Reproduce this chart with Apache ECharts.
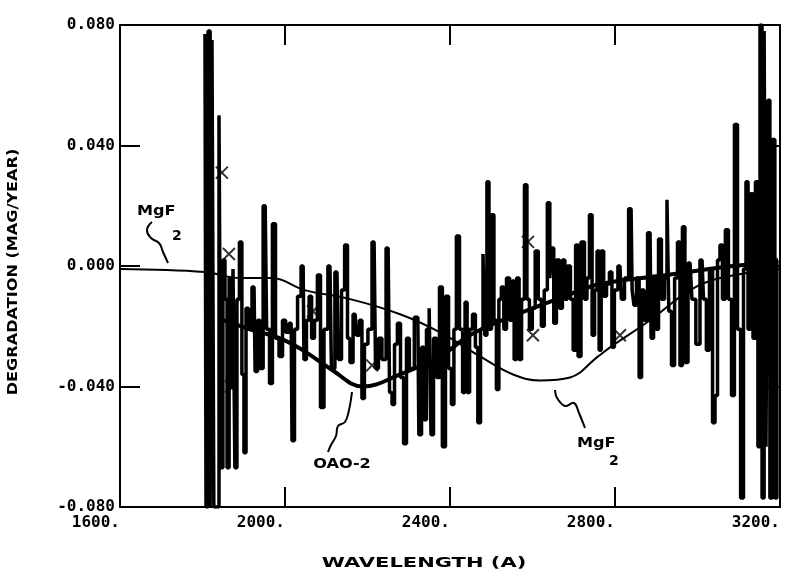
<!DOCTYPE html>
<html>
<head>
<meta charset="utf-8">
<title>Degradation vs wavelength</title>
<script src="https://cdn.jsdelivr.net/npm/echarts@6/dist/echarts.min.js"></script>
<style>
  html, body { margin: 0; padding: 0; background: #fff; }
  #chart { width: 786px; height: 574px; }
</style>
</head>
<body>
<div id="chart"></div>
<script>
// --- Data: [wavelength (A), degradation (mag/year)] ---
var NOISE = [
  [1806,0.077],[1811,-0.080],[1816,0.078],[1821,-0.080],[1825,0.075],[1830,-0.080],[1838,-0.080],[1842,0.050],
  [1847,-0.067],[1852,0.002],[1857,-0.011],[1862,-0.067],[1867,-0.004],[1872,-0.041],[1876,-0.001],[1881,-0.067],
  [1886,-0.011],[1893,0.008],[1898,-0.036],[1903,-0.062],[1908,-0.014],[1915,-0.021],[1925,-0.007],[1930,-0.035],
  [1937,-0.018],[1942,-0.034],[1952,0.020],[1959,-0.021],[1966,-0.039],[1973,0.014],[1981,-0.024],[1990,-0.030],
  [1998,-0.018],[2005,-0.022],[2015,-0.019],[2019,-0.058],[2027,-0.021],[2034,-0.010],[2044,0.000],[2048,-0.031],
  [2056,-0.018],[2061,-0.010],[2068,-0.024],[2075,-0.018],[2082,-0.003],[2090,-0.047],[2099,-0.021],[2109,0.000],
  [2116,-0.034],[2126,-0.002],[2133,-0.031],[2141,-0.008],[2148,0.007],[2155,-0.024],[2160,-0.032],[2170,-0.016],
  [2177,-0.023],[2184,-0.018],[2189,-0.044],[2196,-0.026],[2206,-0.021],[2216,0.008],[2223,-0.034],[2230,-0.024],
  [2240,-0.031],[2250,0.006],[2257,-0.042],[2262,-0.046],[2269,-0.026],[2276,-0.019],[2284,-0.037],[2291,-0.059],
  [2298,-0.024],[2305,-0.034],[2322,-0.017],[2327,-0.056],[2335,-0.027],[2339,-0.051],[2347,-0.021],[2352,-0.014],
  [2356,-0.056],[2364,-0.024],[2371,-0.037],[2378,-0.007],[2385,-0.060],[2393,-0.010],[2400,-0.034],[2407,-0.046],
  [2412,-0.021],[2419,0.010],[2427,-0.021],[2434,-0.042],[2439,-0.012],[2444,-0.042],[2451,-0.021],[2458,-0.016],
  [2465,-0.027],[2470,-0.052],[2478,-0.021],[2482,0.004],[2487,-0.023],[2492,0.028],[2497,-0.021],[2504,0.017],
  [2509,-0.018],[2516,-0.041],[2521,-0.011],[2528,-0.007],[2533,-0.021],[2541,-0.004],[2548,-0.018],[2553,-0.005],
  [2558,-0.031],[2565,-0.004],[2570,-0.031],[2577,-0.011],[2584,0.027],[2589,-0.011],[2596,-0.021],[2603,-0.014],
  [2610,0.005],[2618,-0.011],[2625,-0.020],[2632,-0.008],[2640,0.021],[2644,-0.004],[2649,0.006],[2654,-0.019],
  [2662,0.002],[2669,-0.014],[2676,0.002],[2681,-0.011],[2688,0.000],[2696,-0.011],[2701,-0.028],[2708,0.007],
  [2713,-0.030],[2722,0.008],[2730,-0.011],[2734,-0.004],[2742,0.017],[2747,-0.023],[2754,-0.008],[2759,0.005],
  [2764,-0.028],[2769,0.005],[2776,-0.010],[2783,-0.006],[2790,-0.002],[2795,-0.027],[2802,-0.008],[2812,0.000],
  [2819,-0.011],[2827,-0.004],[2839,0.019],[2844,-0.008],[2848,-0.013],[2856,-0.004],[2861,-0.037],[2868,-0.008],
  [2873,-0.018],[2885,0.011],[2890,-0.024],[2897,-0.004],[2902,-0.021],[2909,0.009],[2916,-0.011],[2924,-0.004],
  [2928,0.022],[2933,-0.015],[2941,-0.033],[2948,-0.004],[2955,0.008],[2960,-0.033],[2967,0.013],[2972,-0.032],
  [2982,0.001],[2991,-0.011],[3001,-0.026],[3011,0.002],[3018,-0.011],[3025,-0.028],[3033,-0.001],[3040,-0.052],
  [3045,-0.043],[3052,0.002],[3057,0.007],[3064,-0.011],[3071,0.012],[3079,-0.011],[3086,-0.043],[3093,0.047],
  [3101,-0.021],[3108,-0.077],[3115,-0.001],[3120,0.028],[3125,-0.021],[3132,0.024],[3137,-0.024],[3144,0.028],
  [3149,-0.060],[3154,0.080],[3159,-0.077],[3164,0.078],[3168,-0.060],[3173,0.055],[3178,-0.077],[3185,0.042],
  [3190,-0.077],[3195,0.002]
];

// smooth OAO-2 fit (thick curve)
var OAO2 = [
  [1850,-0.018],[1915,-0.021],[1988,-0.024],[2044,-0.028],[2109,-0.034],[2189,-0.040],[2279,-0.036],
  [2376,-0.030],[2448,-0.023],[2545,-0.017],[2679,-0.010],[2764,-0.006],[2926,-0.003],[3086,0.000],[3176,0.001]
];

// MgF2 reference curve (thin)
var MGF2 = [
  [1600,-0.001],[1806,-0.002],[1891,-0.004],[1968,-0.004],[2048,-0.008],[2158,-0.011],[2279,-0.016],
  [2376,-0.022],[2473,-0.030],[2553,-0.036],[2618,-0.038],[2691,-0.037],[2759,-0.030],[2788,-0.027],
  [2885,-0.018],[2982,-0.008],[3055,-0.004],[3198,-0.001]
];

// cross markers
var MARKS = [
  [1847,0.031],[1864,0.004],[1869,-0.040],[2068,-0.015],[2211,-0.033],[2589,0.008],[2601,-0.023],[2812,-0.023]
];

var X_MIN = 1600, X_MAX = 3200, X_STEP = 400;
var Y_MIN = -0.08, Y_MAX = 0.08, Y_STEP = 0.04;

var LABEL_FONT = '"DejaVu Sans Mono", monospace';
var NOTE_FONT = 'bold 14px "DejaVu Sans", sans-serif';

var chart = echarts.init(document.getElementById('chart'), null, { renderer: 'canvas' });

// --- frame axis: black line, inward ticks ---
function boxAxis(extra) {
  var a = {
    type: 'value',
    axisLine: { show: true, onZero: false, lineStyle: { color: '#000', width: 2 } },
    axisTick: { show: true, inside: true, length: 20, lineStyle: { color: '#000', width: 2 } },
    splitLine: { show: false },
    axisLabel: { show: false }
  };
  for (var k in extra) a[k] = extra[k];
  return a;
}

var option = {
  animation: false,
  backgroundColor: '#fff',
  grid: { left: 120, right: 6, top: 25, bottom: 67 },
  xAxis: [
    boxAxis({ min: X_MIN, max: X_MAX, interval: X_STEP, position: 'bottom',
      axisLabel: { show: true, color: '#000', fontFamily: LABEL_FONT, fontWeight: 'bold', fontSize: 16,
        margin: 8, align: 'right', formatter: function(v) { return v + '.'; } } }),
    boxAxis({ min: X_MIN, max: X_MAX, interval: X_STEP, position: 'top' })
  ],
  yAxis: [
    boxAxis({ min: Y_MIN, max: Y_MAX, interval: Y_STEP, position: 'left',
      axisLabel: { show: true, color: '#000', fontFamily: LABEL_FONT, fontWeight: 'bold', fontSize: 16,
        margin: 5, formatter: function(v) { return v.toFixed(3); } } }),
    boxAxis({ min: Y_MIN, max: Y_MAX, interval: Y_STEP, position: 'right' })
  ],
  series: [
    {
      // measured values, drawn as vertical strokes
      name: 'data', type: 'line', data: NOISE, step: 'middle', showSymbol: false,
      lineStyle: { color: '#000', width: 3.5 }, z: 3
    },
    {
      name: 'OAO-2', type: 'line', data: OAO2, smooth: 0.4, showSymbol: false,
      lineStyle: { color: '#000', width: 4 }, z: 4
    },
    {
      name: 'MgF2', type: 'line', data: MGF2, smooth: 0.4, showSymbol: false,
      lineStyle: { color: '#000', width: 2 }, z: 4
    },
    {
      name: 'marks', type: 'scatter', data: MARKS, symbol: 'path://M0 0L10 10M10 0L0 10', symbolSize: 12,
      itemStyle: { color: 'rgba(0,0,0,0)', borderColor: '#000', borderWidth: 2 }, z: 5
    }
  ],
  graphic: [
    // axis titles
    { type: 'text', x: 424, y: 563, scaleX: 1.5,
      style: { text: 'WAVELENGTH (A)', font: NOTE_FONT, fill: '#000', align: 'center', verticalAlign: 'middle' } },
    { type: 'text', x: 13, y: 272, rotation: Math.PI / 2, scaleX: 1.15,
      style: { text: 'DEGRADATION (MAG/YEAR)', font: NOTE_FONT, fill: '#000', align: 'center', verticalAlign: 'middle' } },
    // curve labels with their leader squiggles
    { type: 'text', x: 137, y: 211, scaleX: 1.15,
      style: { text: 'MgF', font: NOTE_FONT, fill: '#000', align: 'left', verticalAlign: 'middle' } },
    { type: 'text', x: 172, y: 236,
      style: { text: '2', font: NOTE_FONT, fill: '#000', align: 'left', verticalAlign: 'middle' } },
    { type: 'polyline', shape: { points: [[152, 222], [147, 230], [151, 238], [159, 243], [163, 252], [168, 263]], smooth: 0.5 },
      style: { stroke: '#000', lineWidth: 2, fill: null } },
    { type: 'text', x: 342, y: 464, scaleX: 1.15,
      style: { text: 'OAO-2', font: NOTE_FONT, fill: '#000', align: 'center', verticalAlign: 'middle' } },
    { type: 'polyline', shape: { points: [[352, 392], [349, 410], [345, 422], [338, 426], [336, 436], [331, 445], [328, 452]], smooth: 0.4 },
      style: { stroke: '#000', lineWidth: 2, fill: null } },
    { type: 'text', x: 577, y: 443, scaleX: 1.15,
      style: { text: 'MgF', font: NOTE_FONT, fill: '#000', align: 'left', verticalAlign: 'middle' } },
    { type: 'text', x: 609, y: 461,
      style: { text: '2', font: NOTE_FONT, fill: '#000', align: 'left', verticalAlign: 'middle' } },
    { type: 'polyline', shape: { points: [[555, 390], [557, 398], [565, 406], [574, 403], [579, 413], [585, 428]], smooth: 0.4 },
      style: { stroke: '#000', lineWidth: 2, fill: null } }
  ]
};

chart.setOption(option);
</script>
</body>
</html>
